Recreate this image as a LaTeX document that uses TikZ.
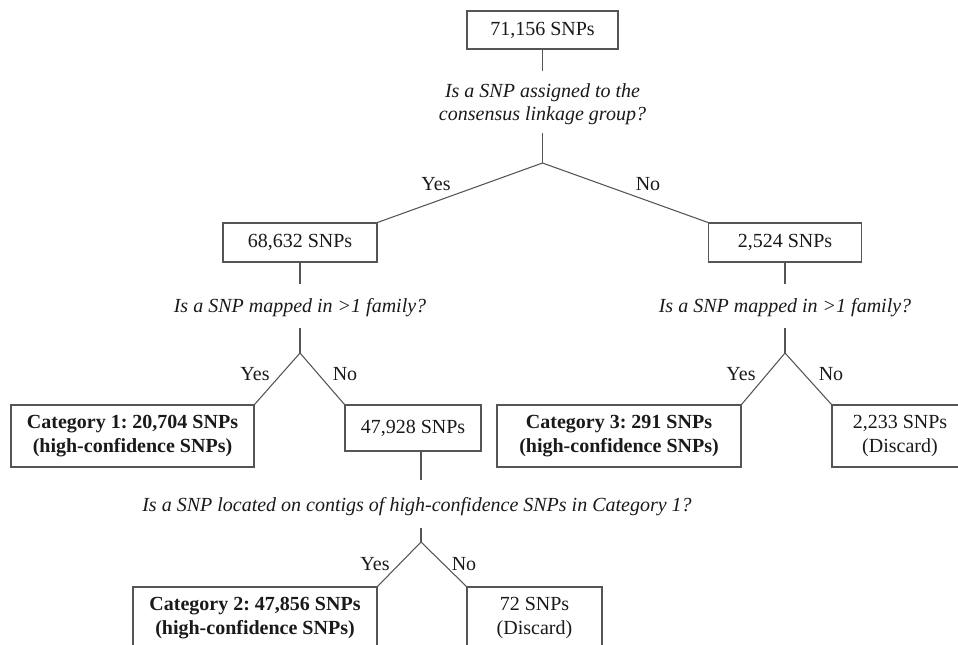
\documentclass[tikz,border=0pt]{standalone}
\usepackage{fontspec}
\setmainfont{Liberation Serif}
\frenchspacing
\definecolor{linec}{HTML}{555555}
\definecolor{textc}{HTML}{1A1A1A}
\begin{document}
\begin{tikzpicture}[x=0.75pt,y=-0.75pt,
  every node/.style={text=textc, font=\fontsize{15pt}{18pt}\selectfont, inner sep=0pt},
  box/.style={draw=linec, line width=0.8pt, align=center},
  bbox/.style={box, font=\fontsize{15pt}{18pt}\selectfont\bfseries},
  conn/.style={draw=linec, line width=0.8pt},
  quest/.style={align=center, font=\fontsize{15pt}{17.25pt}\selectfont\itshape},
  lab/.style={}]
\useasboundingbox (0,0) rectangle (958,644);
\fill[white] (0,0) rectangle (958,644);
\clip (0,0) rectangle (958,644);

% boxes
\node[box, minimum width=113.25pt, minimum height=28.5pt] (top) at (542.5,30) {71,156 SNPs};
\node[box, minimum width=115.5pt, minimum height=29.25pt] (b1) at (300,242.5) {68,632 SNPs};
\node[box, minimum width=114.75pt, minimum height=29.25pt] (b2) at (785,242.5) {2,524 SNPs};
\node[bbox, minimum width=182.25pt, minimum height=46.5pt] (c1) at (132.5,436) {Category 1: 20,704 SNPs\\(high-confidence SNPs)};
\node[box, minimum width=102pt, minimum height=34.5pt] (b3) at (413,428) {47,928 SNPs};
\node[bbox, minimum width=183pt, minimum height=46.5pt] (c3) at (619,436) {Category 3: 291 SNPs\\(high-confidence SNPs)};
\node[box, minimum width=102pt, minimum height=46.5pt] (d1) at (900,436) {2,233 SNPs\\(Discard)};
\node[bbox, minimum width=183pt, minimum height=46.5pt] (c2) at (255,618) {Category 2: 47,856 SNPs\\(high-confidence SNPs)};
\node[box, minimum width=101.25pt, minimum height=46.5pt] (d2) at (534.5,618) {72 SNPs\\(Discard)};

% questions
\node[quest] (q1) at (542.5,104) {Is a SNP assigned to the\\consensus linkage group?};
\node[quest] (q2) at (300,308) {Is a SNP mapped in >1 family?};
\node[quest] (q3) at (785,308) {Is a SNP mapped in >1 family?};
\node[quest] (q4) at (417,507) {Is a SNP located on contigs of high-confidence SNPs in Category 1?};

% coordinates
\coordinate (a1) at (542.5,71);
\coordinate (a2) at (542.5,133);
\coordinate (v1) at (542.5,163);
\coordinate (a3) at (300,284);
\coordinate (a4) at (300,328);
\coordinate (v2) at (300,353);
\coordinate (a5) at (785,284);
\coordinate (a6) at (785,328);
\coordinate (v3) at (785,353);
\coordinate (a7t) at (421,451);
\coordinate (a7) at (421,480);
\coordinate (a8) at (421,528);
\coordinate (v4) at (421,542);

% connectors
\draw[conn] (top.south) -- (a1);
\draw[conn] (a2) -- (v1);
\draw[conn] (v1) -- (b1.north east);
\draw[conn] (v1) -- (b2.north west);
\draw[conn] (b1.south) -- (a3);
\draw[conn] (a4) -- (v2);
\draw[conn] (v2) -- (c1.north east);
\draw[conn] (v2) -- (b3.north west);
\draw[conn] (b2.south) -- (a5);
\draw[conn] (a6) -- (v3);
\draw[conn] (v3) -- (c3.north east);
\draw[conn] (v3) -- (d1.north west);
\draw[conn] (a7t) -- (a7);
\draw[conn] (a8) -- (v4);
\draw[conn] (v4) -- (c2.north east);
\draw[conn] (v4) -- (d2.north west);

% labels
\node[lab] (y1) at (436,184) {Yes};
\node[lab] (n1) at (648,184) {No};
\node[lab] (y2) at (255,374) {Yes};
\node[lab] (n2) at (345,374) {No};
\node[lab] (y3) at (741,374) {Yes};
\node[lab] (n3) at (831,374) {No};
\node[lab] (y4) at (375,564) {Yes};
\node[lab] (n4) at (464,564) {No};
\end{tikzpicture}
\end{document}
